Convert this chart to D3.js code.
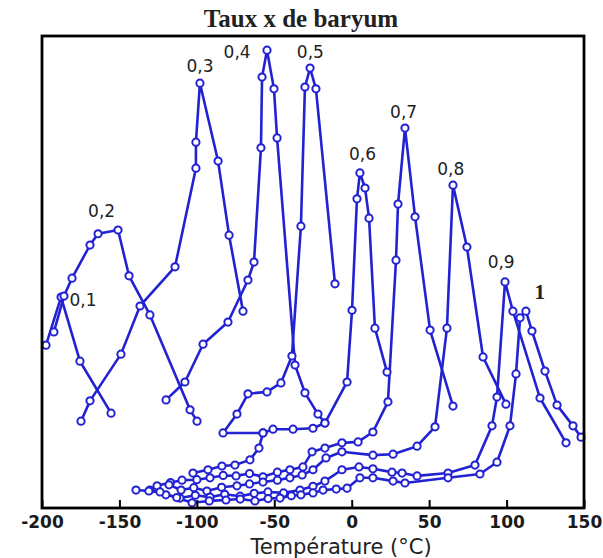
<!DOCTYPE html>
<html><head><meta charset="utf-8">
<script src="https://cdn.jsdelivr.net/npm/d3@7/dist/d3.min.js"></script>
<style>body{margin:0;background:#fff}svg{display:block}</style>
</head><body>
<svg id="c" width="603" height="558"></svg>
<script>
// Curve data: [température (°C), permittivité (unités arbitraires)]
const s01 = [[-197.4,34.5],[-187.7,44.7],[-175.5,31.1],[-155.4,20.1]];
const s02 = [[-192.3,37.3],[-185.8,44.9],[-180.6,48.7],[-169.0,55.7],[-163.8,58.1],[-150.9,58.9],[-143.8,49.2],[-130.3,40.9],[-104.4,20.8],[-99.9,18.4]];
const s03 = [[-174.8,18.4],[-169.0,22.7],[-149.0,32.6],[-136.7,42.8],[-114.1,51.1],[-100.6,72.0],[-100.6,77.5],[-98.0,90.0],[-86.3,73.5],[-79.2,57.8],[-70.2,41.7]];
const s04 = [[-119.9,22.9],[-107.7,26.7],[-96.0,34.7],[-79.9,39.4],[-67.0,48.3],[-63.1,52.1],[-58.6,76.3],[-57.9,91.3],[-54.7,97.0],[-50.2,88.8],[-48.2,78.4],[-36.6,30.3],[-30.2,24.4],[-21.8,19.9],[-17.3,18.0]];
const s05 = [[-57.3,15.9],[-83.1,15.9],[-74.1,19.9],[-67.0,24.2],[-54.7,24.6],[-45.7,26.5],[-38.6,32.2],[-32.8,59.7],[-30.2,89.2],[-26.9,93.2],[-23.1,88.8],[-10.8,47.5]];
const s06 = [[-102.5,7.4],[-92.8,8.1],[-83.8,8.9],[-75.4,9.1],[-65.7,10.2],[-59.9,12.7],[-57.3,15.9],[-50.8,16.7],[-37.9,16.7],[-25.0,16.9],[-17.3,18.0],[-3.0,26.7],[0.2,41.9],[3.4,65.5],[5.3,71.0],[8.6,67.8],[11.2,61.4],[15.0,38.1],[22.8,28.8]];
const s07 = [[-125.7,4.7],[-117,5.4],[-109.6,5.9],[-100,6.0],[-91.5,6.4],[-83,6.9],[-74.7,6.8],[-66,7.3],[-57.3,6.6],[-48,7.6],[-39.9,8.1],[-31.5,8.7],[-25.6,11.9],[-17.3,12.7],[-6.3,13.8],[4.1,14.0],[13.7,16.1],[23.4,22.5],[28.6,52.5],[29.9,64.4],[34.4,80.5],[40.9,61.7],[50.6,37.7],[65.4,21.6]];
const s08 = [[-118,4.9],[-110.2,3.8],[-102,4.3],[-93.5,3.6],[-84,4.4],[-74.1,4.7],[-66,5.1],[-57.3,5.5],[-48,5.9],[-39.9,6.4],[-32,7.0],[-25.0,8.1],[-16.6,10.6],[-6.3,11.9],[13.7,11.2],[26.7,11.4],[42.2,13.1],[53.8,17.2],[61.5,38.1],[65.4,68.4],[74.4,55.3],[84.8,32.0],[99.6,22.0]];
const s09 = [[-130.3,3.8],[-120,2.8],[-110.9,2.1],[-101,2.7],[-91.5,2.3],[-82,2.9],[-72.1,2.5],[-63,3.1],[-54.1,3.4],[-44,3.2],[-33.4,3.8],[-25,4.6],[-17.3,5.7],[-6.3,8.1],[4.7,8.7],[13.7,8.3],[26.0,7.6],[32.5,7.4],[42.2,6.8],[62.2,7.4],[79.6,9.1],[90.6,17.4],[93.8,23.5],[99.0,47.9],[104.1,41.7],[121.6,23.3],[138.4,13.8]];
const s10 = [[-139.3,3.8],[-131,3.6],[-123.8,3.4],[-113,2.2],[-103.1,1.1],[-92,1.5],[-81.2,1.7],[-72,1.9],[-62.5,1.5],[-54,2.0],[-46.3,2.1],[-39,2.6],[-32.8,2.8],[-25,3.2],[-18.5,3.8],[-10,4.0],[-3.0,4.2],[5.3,6.4],[13.7,6.4],[26.7,5.7],[34.4,5.3],[62.2,6.4],[82.8,7.2],[93.8,9.7],[102.2,17.4],[106.1,28.4],[108.7,40.3],[112.5,41.7],[116.4,37.5],[124.8,29.0],[132.6,21.8],[142.9,17.4],[148.1,15.0]];

const seriesList = [s01,s02,s03,s04,s05,s06,s07,s08,s09,s10];
// curve labels: text, temperature, value (anchor)
const labelText = ["0,1","0,2","0,3","0,4","0,5","0,6","0,7","0,8","0,9","1"];
const labelT    = [-173.5,-161.5,-98,-74,-26.7,7,33.5,64,96.5,121.5];
const labelV    = [42.8,61.6,92.4,95.3,95.3,73.7,82.6,70.6,50.8,44.3];
const xTicks = [-200,-150,-100,-50,0,50,100,150];

const L=42,R=584,T=36,B=508;
const svg = d3.select("#c");
const x = d3.scaleLinear().domain([-200,150]).range([L,R]);
const y = d3.scaleLinear().domain([0,100]).range([B,T]);
const blue = "#2222d2";

// title
svg.append("text").attr("x",301).attr("y",27).attr("text-anchor","middle")
  .attr("font-family","'Liberation Serif','Times New Roman',serif").attr("font-weight","bold")
  .attr("font-size",25).attr("fill","#222").text("Taux x de baryum");

// curves
const line = d3.line().x(d=>x(d[0])).y(d=>y(d[1]));
const g = svg.append("g");
seriesList.forEach(s=>{
  g.append("path").datum(s).attr("d",line).attr("fill","none").attr("stroke",blue)
   .attr("stroke-width",2.6).attr("stroke-linejoin","round");
});
seriesList.forEach(s=>{
  g.selectAll(null).data(s).enter().append("circle")
   .attr("cx",d=>x(d[0])).attr("cy",d=>y(d[1])).attr("r",3.6)
   .attr("fill","#fff").attr("stroke",blue).attr("stroke-width",2);
});

// curve labels
labelText.forEach((t,i)=>{
  const isOne = t==="1";
  svg.append("text").attr("x",x(labelT[i])).attr("y",y(labelV[i])).attr("text-anchor","middle")
    .attr("font-family", isOne ? "'Liberation Serif',serif" : "'DejaVu Sans',sans-serif")
    .attr("font-weight", isOne ? "bold" : "normal")
    .attr("font-size", isOne ? 21 : 17).attr("fill","#222").text(t);
});

// axis
const ax = svg.append("g").attr("transform",`translate(0,${B})`)
  .call(d3.axisBottom(x).tickValues(xTicks).tickSizeInner(-8).tickSizeOuter(0).tickPadding(10).tickFormat(d3.format("d")));
ax.select(".domain").remove();
ax.selectAll(".tick line").attr("stroke","#000").attr("stroke-width",2);
ax.selectAll(".tick text").attr("font-family","'DejaVu Sans',sans-serif").attr("font-weight","bold")
  .attr("font-size",17).attr("fill","#1a1a1a").attr("y",20).attr("dy",0).text(d=>d<0?"-"+Math.abs(d):d);

// frame
svg.append("rect").attr("x",L).attr("y",T).attr("width",R-L).attr("height",B-T)
  .attr("fill","none").attr("stroke","#000").attr("stroke-width",2.8);

// x label
svg.append("text").attr("x",341).attr("y",554).attr("text-anchor","middle")
  .attr("font-family","'DejaVu Sans',sans-serif").attr("font-size",21).attr("fill","#222")
  .text("Température (°C)");
</script>
</body></html>
